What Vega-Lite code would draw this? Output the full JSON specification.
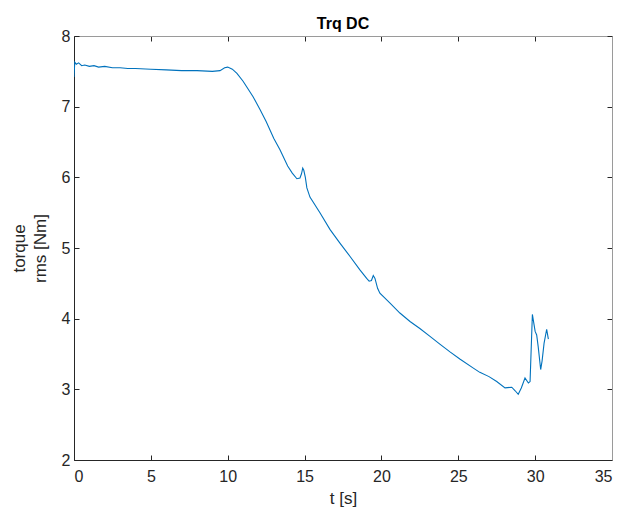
{
  "$schema": "https://vega.github.io/schema/vega-lite/v6.json",
  "autosize": "none",
  "width": 538,
  "height": 424,
  "padding": {"left": 74, "top": 36, "right": 8, "bottom": 54},
  "background": "white",
  "title": {"text": "Trq DC", "fontSize": 16, "fontWeight": "bold", "font": "Liberation Sans", "color": "#000000", "offset": -4},
  "data": {"values": [
    {"t": 0, "v": 7.42}, {"t": 0.05, "v": 7.63}, {"t": 0.15, "v": 7.6}, {"t": 0.3, "v": 7.62}, {"t": 0.5, "v": 7.58},
    {"t": 0.7, "v": 7.59}, {"t": 1.0, "v": 7.57}, {"t": 1.3, "v": 7.58}, {"t": 1.6, "v": 7.56}, {"t": 2.0, "v": 7.57},
    {"t": 2.5, "v": 7.55}, {"t": 3.0, "v": 7.55}, {"t": 3.5, "v": 7.54}, {"t": 4.0, "v": 7.54}, {"t": 5.0, "v": 7.53},
    {"t": 6.0, "v": 7.52}, {"t": 7.0, "v": 7.51}, {"t": 8.0, "v": 7.51}, {"t": 9.0, "v": 7.5}, {"t": 9.5, "v": 7.51},
    {"t": 9.8, "v": 7.55}, {"t": 10.0, "v": 7.56}, {"t": 10.3, "v": 7.53}, {"t": 10.6, "v": 7.47}, {"t": 11.0, "v": 7.36},
    {"t": 11.65, "v": 7.14}, {"t": 12.1, "v": 6.96}, {"t": 12.5, "v": 6.79}, {"t": 13.0, "v": 6.55}, {"t": 13.4, "v": 6.39},
    {"t": 13.9, "v": 6.16}, {"t": 14.2, "v": 6.06}, {"t": 14.5, "v": 5.98}, {"t": 14.7, "v": 5.99}, {"t": 14.8, "v": 6.05},
    {"t": 14.88, "v": 6.13}, {"t": 14.95, "v": 6.1}, {"t": 15.05, "v": 6.0}, {"t": 15.15, "v": 5.85}, {"t": 15.35, "v": 5.72},
    {"t": 16.0, "v": 5.5}, {"t": 16.66, "v": 5.26}, {"t": 17.3, "v": 5.07}, {"t": 17.96, "v": 4.88}, {"t": 18.6, "v": 4.69},
    {"t": 19.04, "v": 4.57}, {"t": 19.2, "v": 4.53}, {"t": 19.35, "v": 4.54}, {"t": 19.47, "v": 4.61}, {"t": 19.58, "v": 4.57},
    {"t": 19.75, "v": 4.43}, {"t": 19.9, "v": 4.36}, {"t": 20.56, "v": 4.22}, {"t": 21.2, "v": 4.08}, {"t": 21.86, "v": 3.96},
    {"t": 22.5, "v": 3.86}, {"t": 23.16, "v": 3.75}, {"t": 23.8, "v": 3.64}, {"t": 24.46, "v": 3.53}, {"t": 25.1, "v": 3.43},
    {"t": 25.98, "v": 3.3}, {"t": 26.4, "v": 3.24}, {"t": 27.0, "v": 3.18}, {"t": 27.5, "v": 3.11}, {"t": 28.04, "v": 3.02},
    {"t": 28.48, "v": 3.03}, {"t": 28.7, "v": 2.98}, {"t": 28.9, "v": 2.93}, {"t": 29.1, "v": 3.02}, {"t": 29.34, "v": 3.16},
    {"t": 29.56, "v": 3.09}, {"t": 29.67, "v": 3.11}, {"t": 29.82, "v": 4.06}, {"t": 30.0, "v": 3.82}, {"t": 30.1, "v": 3.77},
    {"t": 30.2, "v": 3.6}, {"t": 30.36, "v": 3.28}, {"t": 30.45, "v": 3.4}, {"t": 30.58, "v": 3.65}, {"t": 30.75, "v": 3.85},
    {"t": 30.86, "v": 3.71}
  ]},
  "layer": [
    {
      "mark": {"type": "line", "color": "#0072BD", "strokeWidth": 1.1, "clip": true},
      "encoding": {
        "x": {"field": "t", "type": "quantitative", "scale": {"domain": [0, 35], "nice": false, "zero": false},
              "axis": {"orient": "bottom", "values": [0, 5, 10, 15, 20, 25, 30, 35], "title": "t [s]", "titlePadding": 6, "labelPadding": 13}},
        "y": {"field": "v", "type": "quantitative", "scale": {"domain": [2, 8], "nice": false, "zero": false},
              "axis": {"orient": "left", "values": [2, 3, 4, 5, 6, 7, 8], "title": ["torque", "rms [Nm]"], "titlePadding": 12, "labelPadding": 9, "titleLineHeight": 21}}
      }
    },
    {
      "mark": {"type": "line", "opacity": 0},
      "encoding": {
        "x": {"field": "t", "type": "quantitative",
              "axis": {"orient": "top", "values": [0, 5, 10, 15, 20, 25, 30, 35], "labels": false, "title": null, "domainColor": "#9a9a9a"}},
        "y": {"field": "v", "type": "quantitative",
              "axis": {"orient": "right", "values": [2, 3, 4, 5, 6, 7, 8], "labels": false, "title": null, "domainColor": "#9a9a9a"}}
      }
    }
  ],
  "resolve": {"axis": {"x": "independent", "y": "independent"}},
  "config": {
    "view": {"stroke": null},
    "axis": {
      "grid": false,
      "domainColor": "#262626",
      "domainWidth": 1,
      "tickColor": "#262626",
      "tickSize": -5,
      "tickWidth": 1,
      "labelColor": "#262626",
      "labelFont": "Liberation Sans",
      "labelFontSize": 16,
      "titleColor": "#262626",
      "titleFont": "Liberation Sans",
      "titleFontSize": 17,
      "titleFontWeight": "normal"
    }
  }
}
